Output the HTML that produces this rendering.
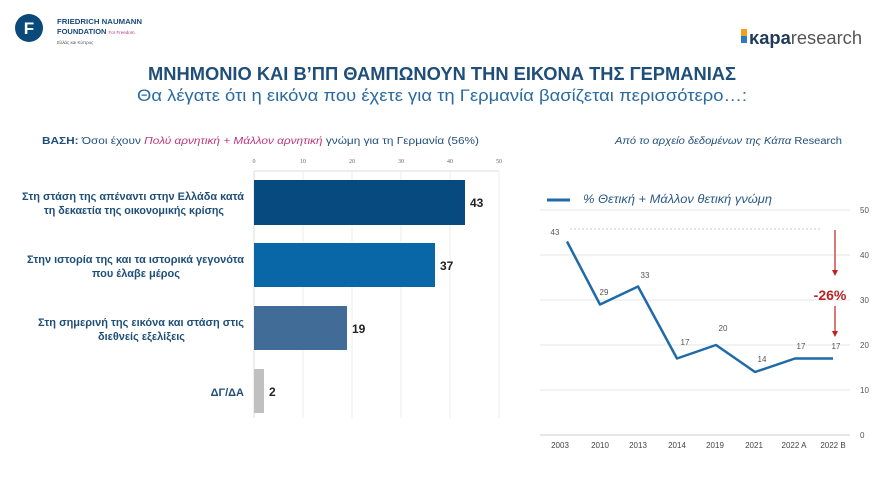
<!DOCTYPE html>
<html><head><meta charset="utf-8"><style>
body{margin:0;width:880px;height:495px;background:#fff;font-family:"Liberation Sans",sans-serif;overflow:hidden}
</style></head><body>
<svg width="880" height="495" xmlns="http://www.w3.org/2000/svg" font-family="Liberation Sans, sans-serif">
<circle cx="29" cy="28" r="14" fill="#0a4a7a"/>
<text x="29" y="34" font-size="17" font-weight="bold" fill="#fff" text-anchor="middle">F</text>
<text x="57" y="24" font-size="7.5" font-weight="bold" fill="#1a4a7a" textLength="85" lengthAdjust="spacingAndGlyphs">FRIEDRICH NAUMANN</text>
<text x="57" y="34" font-size="7.5" font-weight="bold" fill="#1a4a7a">FOUNDATION <tspan font-size="4.5" font-weight="normal" fill="#c0357a">For Freedom.</tspan></text>
<text x="57" y="44" font-size="4.5" fill="#555">Ελλάς και Κύπρος</text>
<rect x="741" y="29" width="6" height="7" fill="#f2a21a"/>
<rect x="741" y="36" width="6" height="7" fill="#2c7bbf"/>
<text x="749" y="44" font-size="18" fill="#1f3a5a" textLength="113" lengthAdjust="spacingAndGlyphs"><tspan font-weight="bold">κapa</tspan><tspan fill="#555">research</tspan></text>
<text x="148" y="80" font-size="18" font-weight="bold" fill="#1f4e79" textLength="588" lengthAdjust="spacingAndGlyphs">ΜΝΗΜΟΝΙΟ ΚΑΙ Β’ΠΠ ΘΑΜΠΩΝΟΥΝ ΤΗΝ ΕΙΚΟΝΑ ΤΗΣ ΓΕΡΜΑΝΙΑΣ</text>
<text x="137" y="101" font-size="17" fill="#2a6aa0" textLength="610" lengthAdjust="spacingAndGlyphs">Θα λέγατε ότι η εικόνα που έχετε για τη Γερμανία βασίζεται περισσότερο…:</text>
<text x="42" y="144" font-size="10.5" fill="#1f4e79" textLength="437" lengthAdjust="spacingAndGlyphs"><tspan font-weight="bold">ΒΑΣΗ:</tspan> Όσοι έχουν <tspan fill="#c0357a" font-style="italic">Πολύ αρνητική + Μάλλον αρνητική</tspan> γνώμη για τη Γερμανία (56%)</text>
<text x="615" y="144" font-size="10" fill="#1f4e79" font-style="italic" textLength="227" lengthAdjust="spacingAndGlyphs">Από το αρχείο δεδομένων της Κάπα <tspan font-style="normal">Research</tspan></text>
<g font-family="Liberation Serif, serif" font-size="6" fill="#666" text-anchor="middle">
<text x="254" y="163">0</text><text x="303" y="163">10</text><text x="352" y="163">20</text><text x="401" y="163">30</text><text x="450" y="163">40</text><text x="499" y="163">50</text>
</g>
<line x1="254" y1="171" x2="499" y2="171" stroke="#ddd"/>
<g stroke="#eee"><line x1="303" y1="171" x2="303" y2="418"/><line x1="352" y1="171" x2="352" y2="418"/><line x1="401" y1="171" x2="401" y2="418"/><line x1="450" y1="171" x2="450" y2="418"/><line x1="499" y1="171" x2="499" y2="418"/></g>
<line x1="254" y1="171" x2="254" y2="418" stroke="#ddd"/>
<rect x="254" y="180" width="211" height="45" fill="#064a80"/>
<rect x="254" y="243" width="181" height="44" fill="#0967a8"/>
<rect x="254" y="306" width="93" height="44" fill="#426c98"/>
<rect x="254" y="369" width="10" height="44" fill="#c0c0c0"/>
<g font-size="12" font-weight="bold" fill="#222">
<text x="470" y="207">43</text><text x="440" y="270">37</text><text x="352" y="333">19</text><text x="269" y="396">2</text></g>
<g font-size="11" font-weight="bold" fill="#1f4e79">
<text x="22" y="200" textLength="222" lengthAdjust="spacingAndGlyphs">Στη στάση της απέναντι στην Ελλάδα κατά</text>
<text x="44" y="214" textLength="180" lengthAdjust="spacingAndGlyphs">τη δεκαετία της οικονομικής κρίσης</text>
<text x="27" y="263" textLength="217" lengthAdjust="spacingAndGlyphs">Στην ιστορία της και τα ιστορικά γεγονότα</text>
<text x="92" y="277" textLength="88" lengthAdjust="spacingAndGlyphs">που έλαβε μέρος</text>
<text x="38" y="326" textLength="206" lengthAdjust="spacingAndGlyphs">Στη σημερινή της εικόνα και στάση στις</text>
<text x="98" y="340" textLength="87" lengthAdjust="spacingAndGlyphs">διεθνείς εξελίξεις</text>
<text x="244" y="396" text-anchor="end">ΔΓ/ΔΑ</text></g>
<g stroke="#e6e6e6"><line x1="540" y1="210" x2="850" y2="210"/><line x1="540" y1="255" x2="850" y2="255"/><line x1="540" y1="300" x2="850" y2="300"/><line x1="540" y1="345" x2="850" y2="345"/><line x1="540" y1="390" x2="850" y2="390"/><line x1="540" y1="435" x2="850" y2="435" stroke="#ccc"/></g>
<g font-size="8" fill="#555"><text x="860" y="213">50</text><text x="860" y="258">40</text><text x="860" y="303">30</text><text x="860" y="348">20</text><text x="860" y="393">10</text><text x="860" y="438">0</text></g>
<line x1="570" y1="229" x2="820" y2="229" stroke="#bbb" stroke-dasharray="2,2" stroke-width="0.8"/>
<line x1="547" y1="200" x2="570" y2="200" stroke="#1f6aa8" stroke-width="3"/>
<text x="583" y="203" font-size="12" font-style="italic" fill="#2a5a8a" textLength="189" lengthAdjust="spacingAndGlyphs">% Θετική + Μάλλον θετική γνώμη</text>
<polyline points="567,241.5 600,304.5 638,286.5 677,358.5 716,345 755,372 795,358.5 833,358.5" fill="none" stroke="#1f6aa8" stroke-width="2.5" stroke-linejoin="round"/>
<g font-size="8" fill="#555" text-anchor="middle">
<text x="555" y="235">43</text><text x="604" y="295">29</text><text x="645" y="278">33</text><text x="685" y="345">17</text><text x="723" y="331">20</text><text x="762" y="362">14</text><text x="801" y="349">17</text><text x="836" y="349">17</text></g>
<g font-size="8" fill="#444" text-anchor="middle">
<text x="560" y="448">2003</text><text x="600" y="448">2010</text><text x="638" y="448">2013</text><text x="677" y="448">2014</text><text x="715" y="448">2019</text><text x="754" y="448">2021</text><text x="794" y="448">2022 A</text><text x="833" y="448">2022 B</text></g>
<g stroke="#b22" stroke-width="1.2" fill="#b22">
<line x1="835" y1="230" x2="835" y2="270"/><polygon points="832,270 838,270 835,276" stroke="none"/>
<line x1="835" y1="306" x2="835" y2="331"/><polygon points="832,331 838,331 835,337" stroke="none"/></g>
<text x="830" y="300" font-size="14" font-weight="bold" fill="#b22" text-anchor="middle">-26%</text>
</svg>
</body></html>
